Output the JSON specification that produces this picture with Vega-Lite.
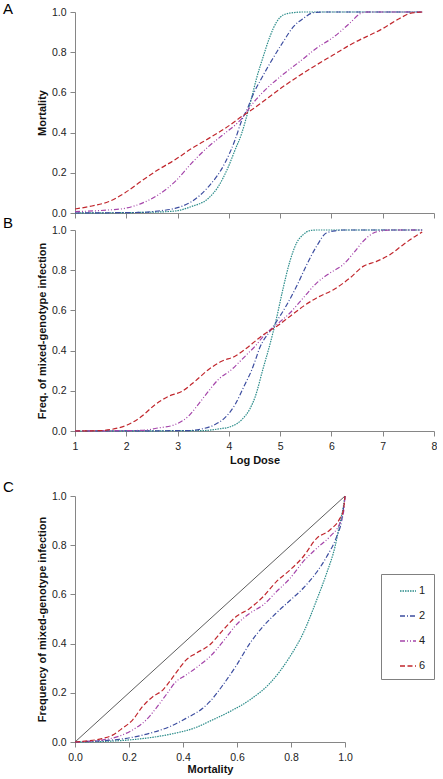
{
  "$schema": "https://vega.github.io/schema/vega-lite/v6.json",
  "padding": {"left": 3, "top": 2, "right": 0, "bottom": 0},
  "datasets": {
    "a": [
      {"s": "1", "x": 1, "y": 0}, {"s": "1", "x": 2, "y": 0.002}, {"s": "1", "x": 2.5, "y": 0.004}, {"s": "1", "x": 2.95, "y": 0.01}, {"s": "1", "x": 3.27, "y": 0.032}, {"s": "1", "x": 3.6, "y": 0.073}, {"s": "1", "x": 3.79, "y": 0.13}, {"s": "1", "x": 3.99, "y": 0.23}, {"s": "1", "x": 4.12, "y": 0.313}, {"s": "1", "x": 4.25, "y": 0.396}, {"s": "1", "x": 4.38, "y": 0.512}, {"s": "1", "x": 4.45, "y": 0.58}, {"s": "1", "x": 4.54, "y": 0.67}, {"s": "1", "x": 4.67, "y": 0.778}, {"s": "1", "x": 4.8, "y": 0.877}, {"s": "1", "x": 4.93, "y": 0.95}, {"s": "1", "x": 5.06, "y": 0.985}, {"s": "1", "x": 5.26, "y": 0.997}, {"s": "1", "x": 5.45, "y": 1.0}, {"s": "1", "x": 7.77, "y": 1.0},
      {"s": "2", "x": 1, "y": 0}, {"s": "2", "x": 2, "y": 0.002}, {"s": "2", "x": 2.3, "y": 0.003}, {"s": "2", "x": 2.62, "y": 0.01}, {"s": "2", "x": 2.95, "y": 0.023}, {"s": "2", "x": 3.27, "y": 0.056}, {"s": "2", "x": 3.6, "y": 0.13}, {"s": "2", "x": 3.92, "y": 0.247}, {"s": "2", "x": 4.12, "y": 0.363}, {"s": "2", "x": 4.25, "y": 0.46}, {"s": "2", "x": 4.38, "y": 0.53}, {"s": "2", "x": 4.45, "y": 0.575}, {"s": "2", "x": 4.51, "y": 0.61}, {"s": "2", "x": 4.6, "y": 0.653}, {"s": "2", "x": 4.8, "y": 0.744}, {"s": "2", "x": 5.06, "y": 0.852}, {"s": "2", "x": 5.26, "y": 0.927}, {"s": "2", "x": 5.45, "y": 0.968}, {"s": "2", "x": 5.65, "y": 0.997}, {"s": "2", "x": 5.84, "y": 1.0}, {"s": "2", "x": 7.77, "y": 1.0},
      {"s": "4", "x": 1, "y": 0.007}, {"s": "4", "x": 1.65, "y": 0.015}, {"s": "4", "x": 1.97, "y": 0.023}, {"s": "4", "x": 2.3, "y": 0.048}, {"s": "4", "x": 2.62, "y": 0.09}, {"s": "4", "x": 2.95, "y": 0.156}, {"s": "4", "x": 3.27, "y": 0.247}, {"s": "4", "x": 3.6, "y": 0.33}, {"s": "4", "x": 3.92, "y": 0.396}, {"s": "4", "x": 4.25, "y": 0.47}, {"s": "4", "x": 4.45, "y": 0.54}, {"s": "4", "x": 4.74, "y": 0.62}, {"s": "4", "x": 5.06, "y": 0.69}, {"s": "4", "x": 5.39, "y": 0.755}, {"s": "4", "x": 5.71, "y": 0.82}, {"s": "4", "x": 6.04, "y": 0.875}, {"s": "4", "x": 6.36, "y": 0.945}, {"s": "4", "x": 6.55, "y": 0.99}, {"s": "4", "x": 6.69, "y": 1.0}, {"s": "4", "x": 7.77, "y": 1.0},
      {"s": "6", "x": 1, "y": 0.02}, {"s": "6", "x": 1.33, "y": 0.035}, {"s": "6", "x": 1.65, "y": 0.056}, {"s": "6", "x": 1.97, "y": 0.1}, {"s": "6", "x": 2.3, "y": 0.16}, {"s": "6", "x": 2.62, "y": 0.215}, {"s": "6", "x": 2.95, "y": 0.265}, {"s": "6", "x": 3.27, "y": 0.32}, {"s": "6", "x": 3.6, "y": 0.37}, {"s": "6", "x": 3.92, "y": 0.42}, {"s": "6", "x": 4.25, "y": 0.48}, {"s": "6", "x": 4.51, "y": 0.525}, {"s": "6", "x": 5.06, "y": 0.629}, {"s": "6", "x": 5.71, "y": 0.737}, {"s": "6", "x": 6.04, "y": 0.787}, {"s": "6", "x": 6.36, "y": 0.836}, {"s": "6", "x": 7.01, "y": 0.919}, {"s": "6", "x": 7.33, "y": 0.968}, {"s": "6", "x": 7.53, "y": 0.993}, {"s": "6", "x": 7.77, "y": 1.0}
    ],
    "b": [
      {"s": "1", "x": 1, "y": 0}, {"s": "1", "x": 3.5, "y": 0.002}, {"s": "1", "x": 3.79, "y": 0.01}, {"s": "1", "x": 4.05, "y": 0.023}, {"s": "1", "x": 4.25, "y": 0.056}, {"s": "1", "x": 4.41, "y": 0.11}, {"s": "1", "x": 4.51, "y": 0.168}, {"s": "1", "x": 4.67, "y": 0.313}, {"s": "1", "x": 4.8, "y": 0.43}, {"s": "1", "x": 4.93, "y": 0.562}, {"s": "1", "x": 5.06, "y": 0.712}, {"s": "1", "x": 5.19, "y": 0.844}, {"s": "1", "x": 5.32, "y": 0.935}, {"s": "1", "x": 5.45, "y": 0.977}, {"s": "1", "x": 5.58, "y": 0.997}, {"s": "1", "x": 5.71, "y": 1.0}, {"s": "1", "x": 7.77, "y": 1.0},
      {"s": "2", "x": 1, "y": 0}, {"s": "2", "x": 3.2, "y": 0.002}, {"s": "2", "x": 3.47, "y": 0.01}, {"s": "2", "x": 3.73, "y": 0.032}, {"s": "2", "x": 3.92, "y": 0.065}, {"s": "2", "x": 4.12, "y": 0.131}, {"s": "2", "x": 4.31, "y": 0.23}, {"s": "2", "x": 4.44, "y": 0.3}, {"s": "2", "x": 4.51, "y": 0.347}, {"s": "2", "x": 4.6, "y": 0.413}, {"s": "2", "x": 4.8, "y": 0.496}, {"s": "2", "x": 4.93, "y": 0.545}, {"s": "2", "x": 5.13, "y": 0.628}, {"s": "2", "x": 5.32, "y": 0.72}, {"s": "2", "x": 5.52, "y": 0.828}, {"s": "2", "x": 5.71, "y": 0.919}, {"s": "2", "x": 5.9, "y": 0.985}, {"s": "2", "x": 6.1, "y": 0.997}, {"s": "2", "x": 6.23, "y": 1.0}, {"s": "2", "x": 7.77, "y": 1.0},
      {"s": "4", "x": 1, "y": 0}, {"s": "4", "x": 2.3, "y": 0.003}, {"s": "4", "x": 2.62, "y": 0.015}, {"s": "4", "x": 2.95, "y": 0.032}, {"s": "4", "x": 3.21, "y": 0.073}, {"s": "4", "x": 3.4, "y": 0.131}, {"s": "4", "x": 3.6, "y": 0.197}, {"s": "4", "x": 3.79, "y": 0.255}, {"s": "4", "x": 4.05, "y": 0.305}, {"s": "4", "x": 4.25, "y": 0.355}, {"s": "4", "x": 4.38, "y": 0.388}, {"s": "4", "x": 4.51, "y": 0.421}, {"s": "4", "x": 4.67, "y": 0.471}, {"s": "4", "x": 4.93, "y": 0.529}, {"s": "4", "x": 5.19, "y": 0.587}, {"s": "4", "x": 5.45, "y": 0.662}, {"s": "4", "x": 5.71, "y": 0.736}, {"s": "4", "x": 5.97, "y": 0.786}, {"s": "4", "x": 6.23, "y": 0.828}, {"s": "4", "x": 6.43, "y": 0.885}, {"s": "4", "x": 6.62, "y": 0.944}, {"s": "4", "x": 6.82, "y": 0.985}, {"s": "4", "x": 7.01, "y": 0.997}, {"s": "4", "x": 7.14, "y": 1.0}, {"s": "4", "x": 7.77, "y": 1.0},
      {"s": "6", "x": 1, "y": 0}, {"s": "6", "x": 1.5, "y": 0.002}, {"s": "6", "x": 1.84, "y": 0.015}, {"s": "6", "x": 2.04, "y": 0.032}, {"s": "6", "x": 2.3, "y": 0.073}, {"s": "6", "x": 2.56, "y": 0.131}, {"s": "6", "x": 2.82, "y": 0.172}, {"s": "6", "x": 3.08, "y": 0.197}, {"s": "6", "x": 3.34, "y": 0.247}, {"s": "6", "x": 3.6, "y": 0.305}, {"s": "6", "x": 3.86, "y": 0.347}, {"s": "6", "x": 4.12, "y": 0.372}, {"s": "6", "x": 4.31, "y": 0.405}, {"s": "6", "x": 4.51, "y": 0.446}, {"s": "6", "x": 4.67, "y": 0.479}, {"s": "6", "x": 4.93, "y": 0.52}, {"s": "6", "x": 5.19, "y": 0.57}, {"s": "6", "x": 5.45, "y": 0.62}, {"s": "6", "x": 5.71, "y": 0.662}, {"s": "6", "x": 6.04, "y": 0.703}, {"s": "6", "x": 6.36, "y": 0.761}, {"s": "6", "x": 6.62, "y": 0.819}, {"s": "6", "x": 6.88, "y": 0.844}, {"s": "6", "x": 7.14, "y": 0.877}, {"s": "6", "x": 7.4, "y": 0.927}, {"s": "6", "x": 7.66, "y": 0.973}, {"s": "6", "x": 7.77, "y": 0.99}
    ],
    "c": [
      {"s": "1", "x": 0, "y": 0}, {"s": "1", "x": 0.1, "y": 0.002}, {"s": "1", "x": 0.226, "y": 0.011}, {"s": "1", "x": 0.35, "y": 0.031}, {"s": "1", "x": 0.45, "y": 0.06}, {"s": "1", "x": 0.5, "y": 0.085}, {"s": "1", "x": 0.572, "y": 0.123}, {"s": "1", "x": 0.647, "y": 0.171}, {"s": "1", "x": 0.721, "y": 0.238}, {"s": "1", "x": 0.796, "y": 0.347}, {"s": "1", "x": 0.845, "y": 0.442}, {"s": "1", "x": 0.895, "y": 0.577}, {"s": "1", "x": 0.932, "y": 0.686}, {"s": "1", "x": 0.963, "y": 0.794}, {"s": "1", "x": 0.981, "y": 0.889}, {"s": "1", "x": 0.994, "y": 0.957}, {"s": "1", "x": 1.0, "y": 1.0},
      {"s": "2", "x": 0, "y": 0}, {"s": "2", "x": 0.1, "y": 0.005}, {"s": "2", "x": 0.164, "y": 0.011}, {"s": "2", "x": 0.226, "y": 0.022}, {"s": "2", "x": 0.288, "y": 0.039}, {"s": "2", "x": 0.35, "y": 0.062}, {"s": "2", "x": 0.411, "y": 0.096}, {"s": "2", "x": 0.473, "y": 0.137}, {"s": "2", "x": 0.5, "y": 0.165}, {"s": "2", "x": 0.55, "y": 0.235}, {"s": "2", "x": 0.597, "y": 0.31}, {"s": "2", "x": 0.647, "y": 0.4}, {"s": "2", "x": 0.697, "y": 0.47}, {"s": "2", "x": 0.746, "y": 0.525}, {"s": "2", "x": 0.796, "y": 0.575}, {"s": "2", "x": 0.845, "y": 0.625}, {"s": "2", "x": 0.895, "y": 0.69}, {"s": "2", "x": 0.932, "y": 0.753}, {"s": "2", "x": 0.969, "y": 0.835}, {"s": "2", "x": 0.988, "y": 0.902}, {"s": "2", "x": 1.0, "y": 1.0},
      {"s": "4", "x": 0, "y": 0}, {"s": "4", "x": 0.052, "y": 0.003}, {"s": "4", "x": 0.1, "y": 0.008}, {"s": "4", "x": 0.164, "y": 0.024}, {"s": "4", "x": 0.213, "y": 0.049}, {"s": "4", "x": 0.263, "y": 0.089}, {"s": "4", "x": 0.3, "y": 0.137}, {"s": "4", "x": 0.337, "y": 0.191}, {"s": "4", "x": 0.374, "y": 0.245}, {"s": "4", "x": 0.411, "y": 0.272}, {"s": "4", "x": 0.461, "y": 0.312}, {"s": "4", "x": 0.498, "y": 0.345}, {"s": "4", "x": 0.548, "y": 0.408}, {"s": "4", "x": 0.597, "y": 0.476}, {"s": "4", "x": 0.647, "y": 0.523}, {"s": "4", "x": 0.697, "y": 0.557}, {"s": "4", "x": 0.746, "y": 0.611}, {"s": "4", "x": 0.796, "y": 0.665}, {"s": "4", "x": 0.845, "y": 0.733}, {"s": "4", "x": 0.895, "y": 0.787}, {"s": "4", "x": 0.944, "y": 0.835}, {"s": "4", "x": 0.981, "y": 0.889}, {"s": "4", "x": 0.994, "y": 0.93}, {"s": "4", "x": 1.0, "y": 1.0},
      {"s": "6", "x": 0, "y": 0}, {"s": "6", "x": 0.052, "y": 0.005}, {"s": "6", "x": 0.1, "y": 0.014}, {"s": "6", "x": 0.139, "y": 0.028}, {"s": "6", "x": 0.176, "y": 0.056}, {"s": "6", "x": 0.213, "y": 0.089}, {"s": "6", "x": 0.25, "y": 0.144}, {"s": "6", "x": 0.288, "y": 0.184}, {"s": "6", "x": 0.325, "y": 0.211}, {"s": "6", "x": 0.35, "y": 0.245}, {"s": "6", "x": 0.387, "y": 0.3}, {"s": "6", "x": 0.411, "y": 0.333}, {"s": "6", "x": 0.449, "y": 0.361}, {"s": "6", "x": 0.498, "y": 0.394}, {"s": "6", "x": 0.548, "y": 0.455}, {"s": "6", "x": 0.597, "y": 0.51}, {"s": "6", "x": 0.647, "y": 0.543}, {"s": "6", "x": 0.697, "y": 0.591}, {"s": "6", "x": 0.746, "y": 0.652}, {"s": "6", "x": 0.796, "y": 0.699}, {"s": "6", "x": 0.845, "y": 0.753}, {"s": "6", "x": 0.895, "y": 0.828}, {"s": "6", "x": 0.944, "y": 0.862}, {"s": "6", "x": 0.981, "y": 0.909}, {"s": "6", "x": 0.994, "y": 0.943}, {"s": "6", "x": 1.0, "y": 1.0}
    ],
    "diag": [{"x": 0, "y": 0}, {"x": 1, "y": 1}]
  },
  "spacing": 14,
  "resolve": {"scale": {"color": "independent", "strokeDash": "independent", "x": "independent", "y": "independent"}},
  "vconcat": [
    {
      "bounds": "flush",
      "spacing": 17,
      "resolve": {"scale": {"color": "independent", "strokeDash": "independent", "x": "independent", "y": "independent"}},
      "vconcat": [
        {
          "width": 359, "height": 201,
          "title": {"text": "A", "offset": -10},
          "data": {"name": "a"},
          "mark": {"type": "line", "strokeWidth": 1.2, "interpolate": "monotone"},
          "encoding": {
            "x": {"field": "x", "type": "quantitative", "scale": {"domain": [1, 8], "nice": false}, "axis": {"values": [1, 2, 3, 4, 5, 6, 7, 8], "labels": false, "title": null}},
            "y": {"field": "y", "type": "quantitative", "scale": {"domain": [0, 1], "nice": false}, "axis": {"values": [0, 0.2, 0.4, 0.6, 0.8, 1.0], "format": ".1f", "title": "Mortality"}},
            "color": {"field": "s", "type": "nominal", "scale": {"domain": ["1", "2", "4", "6"], "range": ["#2B8C8A", "#3D4EA0", "#A545AA", "#C1272D"]}, "legend": null},
            "strokeDash": {"field": "s", "type": "nominal", "scale": {"domain": ["1", "2", "4", "6"], "range": [[1.5, 1], [5, 2, 1, 2], [5, 2, 1, 2, 1, 2], [5, 2.5]]}, "legend": null}
          }
        },
        {
          "width": 359, "height": 201,
          "title": {"text": "B", "offset": -6},
          "data": {"name": "b"},
          "mark": {"type": "line", "strokeWidth": 1.2, "interpolate": "monotone"},
          "encoding": {
            "x": {"field": "x", "type": "quantitative", "scale": {"domain": [1, 8], "nice": false}, "axis": {"values": [1, 2, 3, 4, 5, 6, 7, 8], "format": "d", "title": "Log Dose", "labelPadding": 5, "titlePadding": 3}},
            "y": {"field": "y", "type": "quantitative", "scale": {"domain": [0, 1], "nice": false}, "axis": {"values": [0, 0.2, 0.4, 0.6, 0.8, 1.0], "format": ".1f", "title": "Freq. of mixed-genotype infection"}},
            "color": {"field": "s", "type": "nominal", "scale": {"domain": ["1", "2", "4", "6"], "range": ["#2B8C8A", "#3D4EA0", "#A545AA", "#C1272D"]}, "legend": null},
            "strokeDash": {"field": "s", "type": "nominal", "scale": {"domain": ["1", "2", "4", "6"], "range": [[1.5, 1], [5, 2, 1, 2], [5, 2, 1, 2, 1, 2], [5, 2.5]]}, "legend": null}
          }
        }
      ]
    },
    {
      "width": 270, "height": 246,
      "title": {"text": "C", "offset": -4},
      "layer": [
        {
          "data": {"name": "diag"},
          "mark": {"type": "line", "color": "#333333", "strokeWidth": 0.8},
          "encoding": {
            "x": {"field": "x", "type": "quantitative"},
            "y": {"field": "y", "type": "quantitative"}
          }
        },
        {
          "data": {"name": "c"},
          "mark": {"type": "line", "strokeWidth": 1.2, "interpolate": "monotone"},
          "encoding": {
            "x": {"field": "x", "type": "quantitative", "scale": {"domain": [0, 1], "nice": false}, "axis": {"values": [0, 0.2, 0.4, 0.6, 0.8, 1.0], "format": ".1f", "title": "Mortality", "labelPadding": 5, "titlePadding": 1}},
            "y": {"field": "y", "type": "quantitative", "scale": {"domain": [0, 1], "nice": false}, "axis": {"values": [0, 0.2, 0.4, 0.6, 0.8, 1.0], "format": ".1f", "title": "Frequency of mixed-genotype infection"}},
            "color": {"field": "s", "type": "nominal", "scale": {"domain": ["1", "2", "4", "6"], "range": ["#2B8C8A", "#3D4EA0", "#A545AA", "#C1272D"]}, "legend": {"title": null, "orient": "none", "legendX": 306, "legendY": 78, "labelExpr": "datum.label + '  '"}},
            "strokeDash": {"field": "s", "type": "nominal", "scale": {"domain": ["1", "2", "4", "6"], "range": [[1.5, 1], [5, 2, 1, 2], [5, 2, 1, 2, 1, 2], [5, 2.5]]}, "legend": {"title": null, "orient": "none", "legendX": 306, "legendY": 78, "labelExpr": "datum.label + '  '"}}
          }
        }
      ]
    }
  ],
  "config": {
    "font": "Liberation Sans",
    "view": {"stroke": null},
    "title": {"anchor": "start", "frame": "group", "dx": -72, "fontSize": 15, "fontWeight": "normal", "color": "#000000", "baseline": "alphabetic"},
    "axis": {"grid": false, "domainColor": "#868686", "tickColor": "#868686", "tickSize": 5, "labelPadding": 4, "labelFontSize": 10.5, "labelColor": "#222222", "titleFontSize": 11, "titleFontWeight": "bold", "titleColor": "#111111", "titlePadding": 4, "labelFlush": false, "labelOverlap": false},
    "legend": {"strokeColor": "#808080", "padding": 8, "symbolType": "stroke", "symbolSize": 256, "symbolStrokeWidth": 1.3, "symbolOffset": 10, "labelFontSize": 11, "labelColor": "#222222", "labelOffset": 2, "rowPadding": 11}
  }
}
